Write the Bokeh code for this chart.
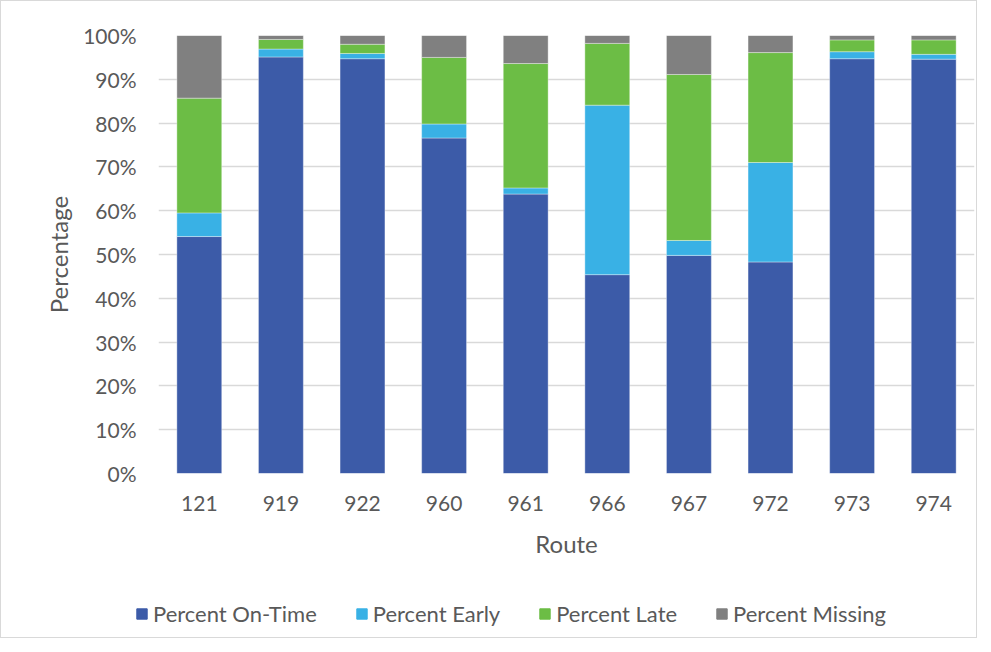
from bokeh.plotting import figure
from bokeh.layouts import column
from bokeh.models import Range1d, FactorRange, Legend, PrintfTickFormatter, ColumnDataSource
from bokeh.embed import file_html
from bokeh.resources import INLINE

routes = ["121", "919", "922", "960", "961", "966", "967", "972", "973", "974"]
on_time = [54.1, 95.1, 94.7, 76.6, 63.8, 45.4, 49.8, 48.3, 94.7, 94.6]
early = [5.4, 1.8, 1.2, 3.2, 1.4, 38.7, 3.4, 22.7, 1.6, 1.1]
late = [26.2, 2.2, 2.1, 15.2, 28.4, 14.1, 37.9, 25.1, 2.7, 3.3]
missing = [14.3, 0.9, 2.0, 5.0, 6.4, 1.8, 8.9, 3.9, 1.0, 1.0]
y_ticks = [0, 10, 20, 30, 40, 50, 60, 70, 80, 90, 100]

series = ["Percent On-Time", "Percent Early", "Percent Late", "Percent Missing"]
colors = ["#3C5BA8", "#39B1E5", "#6CBD45", "#808080"]

source = ColumnDataSource(data={
    "route": routes,
    "Percent On-Time": on_time,
    "Percent Early": early,
    "Percent Late": late,
    "Percent Missing": missing,
})

FONT = "Lato"
TXT = "#595959"

p = figure(
    width=975, height=560,
    x_range=FactorRange(factors=routes),
    y_range=Range1d(0, 100),
    output_backend="svg", toolbar_location=None,
    min_border_left=157, min_border_right=2, min_border_top=34, min_border_bottom=88,
)
p.outline_line_color = None
p.frame_align = False

p.vbar_stack(series, x="route", width=0.55, color=colors, source=source,
             line_color="white", line_width=0.6, line_alpha=0.6)

p.xgrid.grid_line_color = None
p.ygrid.grid_line_color = "#d9d9d9"
p.ygrid.grid_line_width = 1.3
p.yaxis.ticker = y_ticks
p.yaxis.formatter = PrintfTickFormatter(format="%d%%")

for ax in (p.xaxis[0], p.yaxis[0]):
    ax.axis_line_color = None
    ax.major_tick_line_color = None
    ax.minor_tick_line_color = None
    ax.major_tick_out = 0
    ax.major_tick_in = 0
    ax.major_label_text_font = FONT
    ax.major_label_text_font_size = "21px"
    ax.major_label_text_color = TXT
    ax.axis_label_text_font = FONT
    ax.axis_label_text_font_size = "24px"
    ax.axis_label_text_font_style = "normal"
    ax.axis_label_text_color = TXT

p.xaxis.axis_label = "Route"
p.yaxis.axis_label = "Percentage"
p.xaxis.major_label_standoff = 22
p.xaxis.axis_label_standoff = 15
p.yaxis.major_label_standoff = 22
p.yaxis.axis_label_standoff = 7

# legend strip below the chart (its frame spans the whole strip)
lg = figure(
    width=975, height=76, x_range=Range1d(0, 1), y_range=Range1d(0, 1),
    output_backend="svg", toolbar_location=None,
    x_axis_location=None, y_axis_location=None, min_border=0,
)
lg.frame_align = False
lg.outline_line_color = None
lg.grid.grid_line_color = None
legend_renderers = [lg.vbar(x=[-10], top=[0], width=0.5, color=c) for c in colors]
legend = Legend(
    items=[(s, [r]) for s, r in zip(series, legend_renderers)],
    orientation="horizontal", location=(134, 10),
    glyph_width=13, glyph_height=13, label_standoff=5, spacing=38,
    padding=0, margin=0, border_line_color=None, background_fill_alpha=0,
    label_text_font=FONT, label_text_font_size="22px", label_text_color=TXT,
)
lg.add_layout(legend, "center")

layout = column(p, lg, spacing=0, styles={"border": "1px solid #d9d9d9"})

open("out.html", "w").write(file_html(layout, INLINE))
